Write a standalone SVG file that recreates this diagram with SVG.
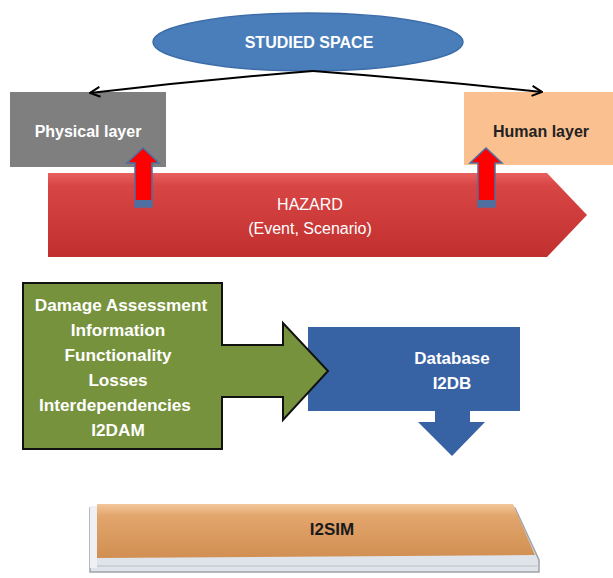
<svg xmlns="http://www.w3.org/2000/svg" width="613" height="578" viewBox="0 0 613 578">
<defs>
<style>
.t{font-family:"Liberation Sans",Arial,sans-serif;text-anchor:middle}
.b{font-weight:bold}
.w{fill:#ffffff}
.conn{fill:none;stroke:#000;stroke-width:2}
</style>
<marker id="open" viewBox="0 0 12 12" refX="11" refY="6" markerWidth="12" markerHeight="12" markerUnits="userSpaceOnUse" orient="auto">
<path d="M1,1 L11,6 L1,11" fill="none" stroke="#000" stroke-width="2"/>
</marker>
<linearGradient id="red" x1="0" y1="0" x2="0" y2="1">
<stop offset="0" stop-color="#e86060"/>
<stop offset="0.15" stop-color="#d84545"/>
<stop offset="1" stop-color="#c0302e"/>
</linearGradient>
<linearGradient id="tan" x1="0" y1="0" x2="0" y2="1">
<stop offset="0" stop-color="#f2c79a"/>
<stop offset="0.22" stop-color="#e2a56c"/>
<stop offset="1" stop-color="#d18f52"/>
</linearGradient>
</defs>
<rect width="613" height="578" fill="#ffffff"/>

<g id="studied-space">
<ellipse cx="308" cy="42" rx="155" ry="29" fill="#4a7ebb" stroke="#3d6da8" stroke-width="1.5"/>
<text class="t b w" x="309" y="48" font-size="16">STUDIED SPACE</text>
</g>

<g id="physical-layer">
<rect x="10" y="92" width="156" height="75" fill="#7f7f7f"/>
<text class="t b w" x="88" y="137" font-size="16">Physical layer</text>
</g>

<g id="human-layer">
<rect x="464" y="92" width="149" height="73" fill="#fac08f"/>
<text class="t b" x="541" y="137" font-size="16" fill="#222">Human layer</text>
</g>

<g id="hazard">
<polygon points="48,173 547,173 587,215 547,257 48,257" fill="url(#red)"/>
<text class="t w" x="310" y="210" font-size="16">HAZARD</text>
<text class="t w" x="310" y="234" font-size="16">(Event, Scenario)</text>
</g>

<g id="i2db">
<rect x="308" y="327" width="212" height="84" fill="#3762a4"/>
<polygon points="435,411 470,411 470,422 485,422 452,456 418,422 435,422" fill="#3762a4"/>
<text class="t b w" x="452" y="364" font-size="17">Database</text>
<text class="t b w" x="452" y="389" font-size="17">I2DB</text>
</g>

<g id="i2dam">
<path d="M23,283 H222 V345 H283 V323 L328,371 L283,420 V397 H222 V449 H23 Z" fill="#76923c" stroke="#111" stroke-width="2" stroke-linejoin="miter"/>
<g class="t b w" font-size="17.2">
<text x="121" y="311">Damage Assessment</text>
<text x="118" y="336">Information</text>
<text x="118" y="361">Functionality</text>
<text x="118" y="386">Losses</text>
<text x="115" y="411">Interdependencies</text>
<text x="118" y="436">I2DAM</text>
</g>
</g>

<g id="i2sim">
<polygon points="90,508 515,508 539,560 539,572 90,572" fill="#dfe4ea" stroke="#9ea3aa" stroke-width="1.5"/>
<line x1="93" y1="566" x2="537" y2="566" stroke="#b9bec6" stroke-width="1"/>
<polygon points="97,504 513,504 535,555 97,558" fill="url(#tan)"/>
<rect x="90" y="506" width="7" height="62" fill="#eef0f3"/>
<text class="t b" x="332" y="535" font-size="17" fill="#1a1a1a">I2SIM</text>
</g>

<g id="up-arrows">
<polygon points="135,207 135,163 127,163 143,148 159,163 152,163 152,207" fill="#ff0000" stroke="#4f6fa0" stroke-width="1.5"/>
<rect x="135" y="200" width="17" height="7" fill="#4f6fa0"/>
<polygon points="478,207 478,163 470,163 486,148 502,163 495,163 495,207" fill="#ff0000" stroke="#4f6fa0" stroke-width="1.5"/>
<rect x="478" y="200" width="17" height="7" fill="#4f6fa0"/>
</g>

<g id="connectors">
<path class="conn" d="M313,71 Q200,80 90,93" marker-end="url(#open)"/>
<path class="conn" d="M313,71 Q430,80 542,92" marker-end="url(#open)"/>
</g>
</svg>
